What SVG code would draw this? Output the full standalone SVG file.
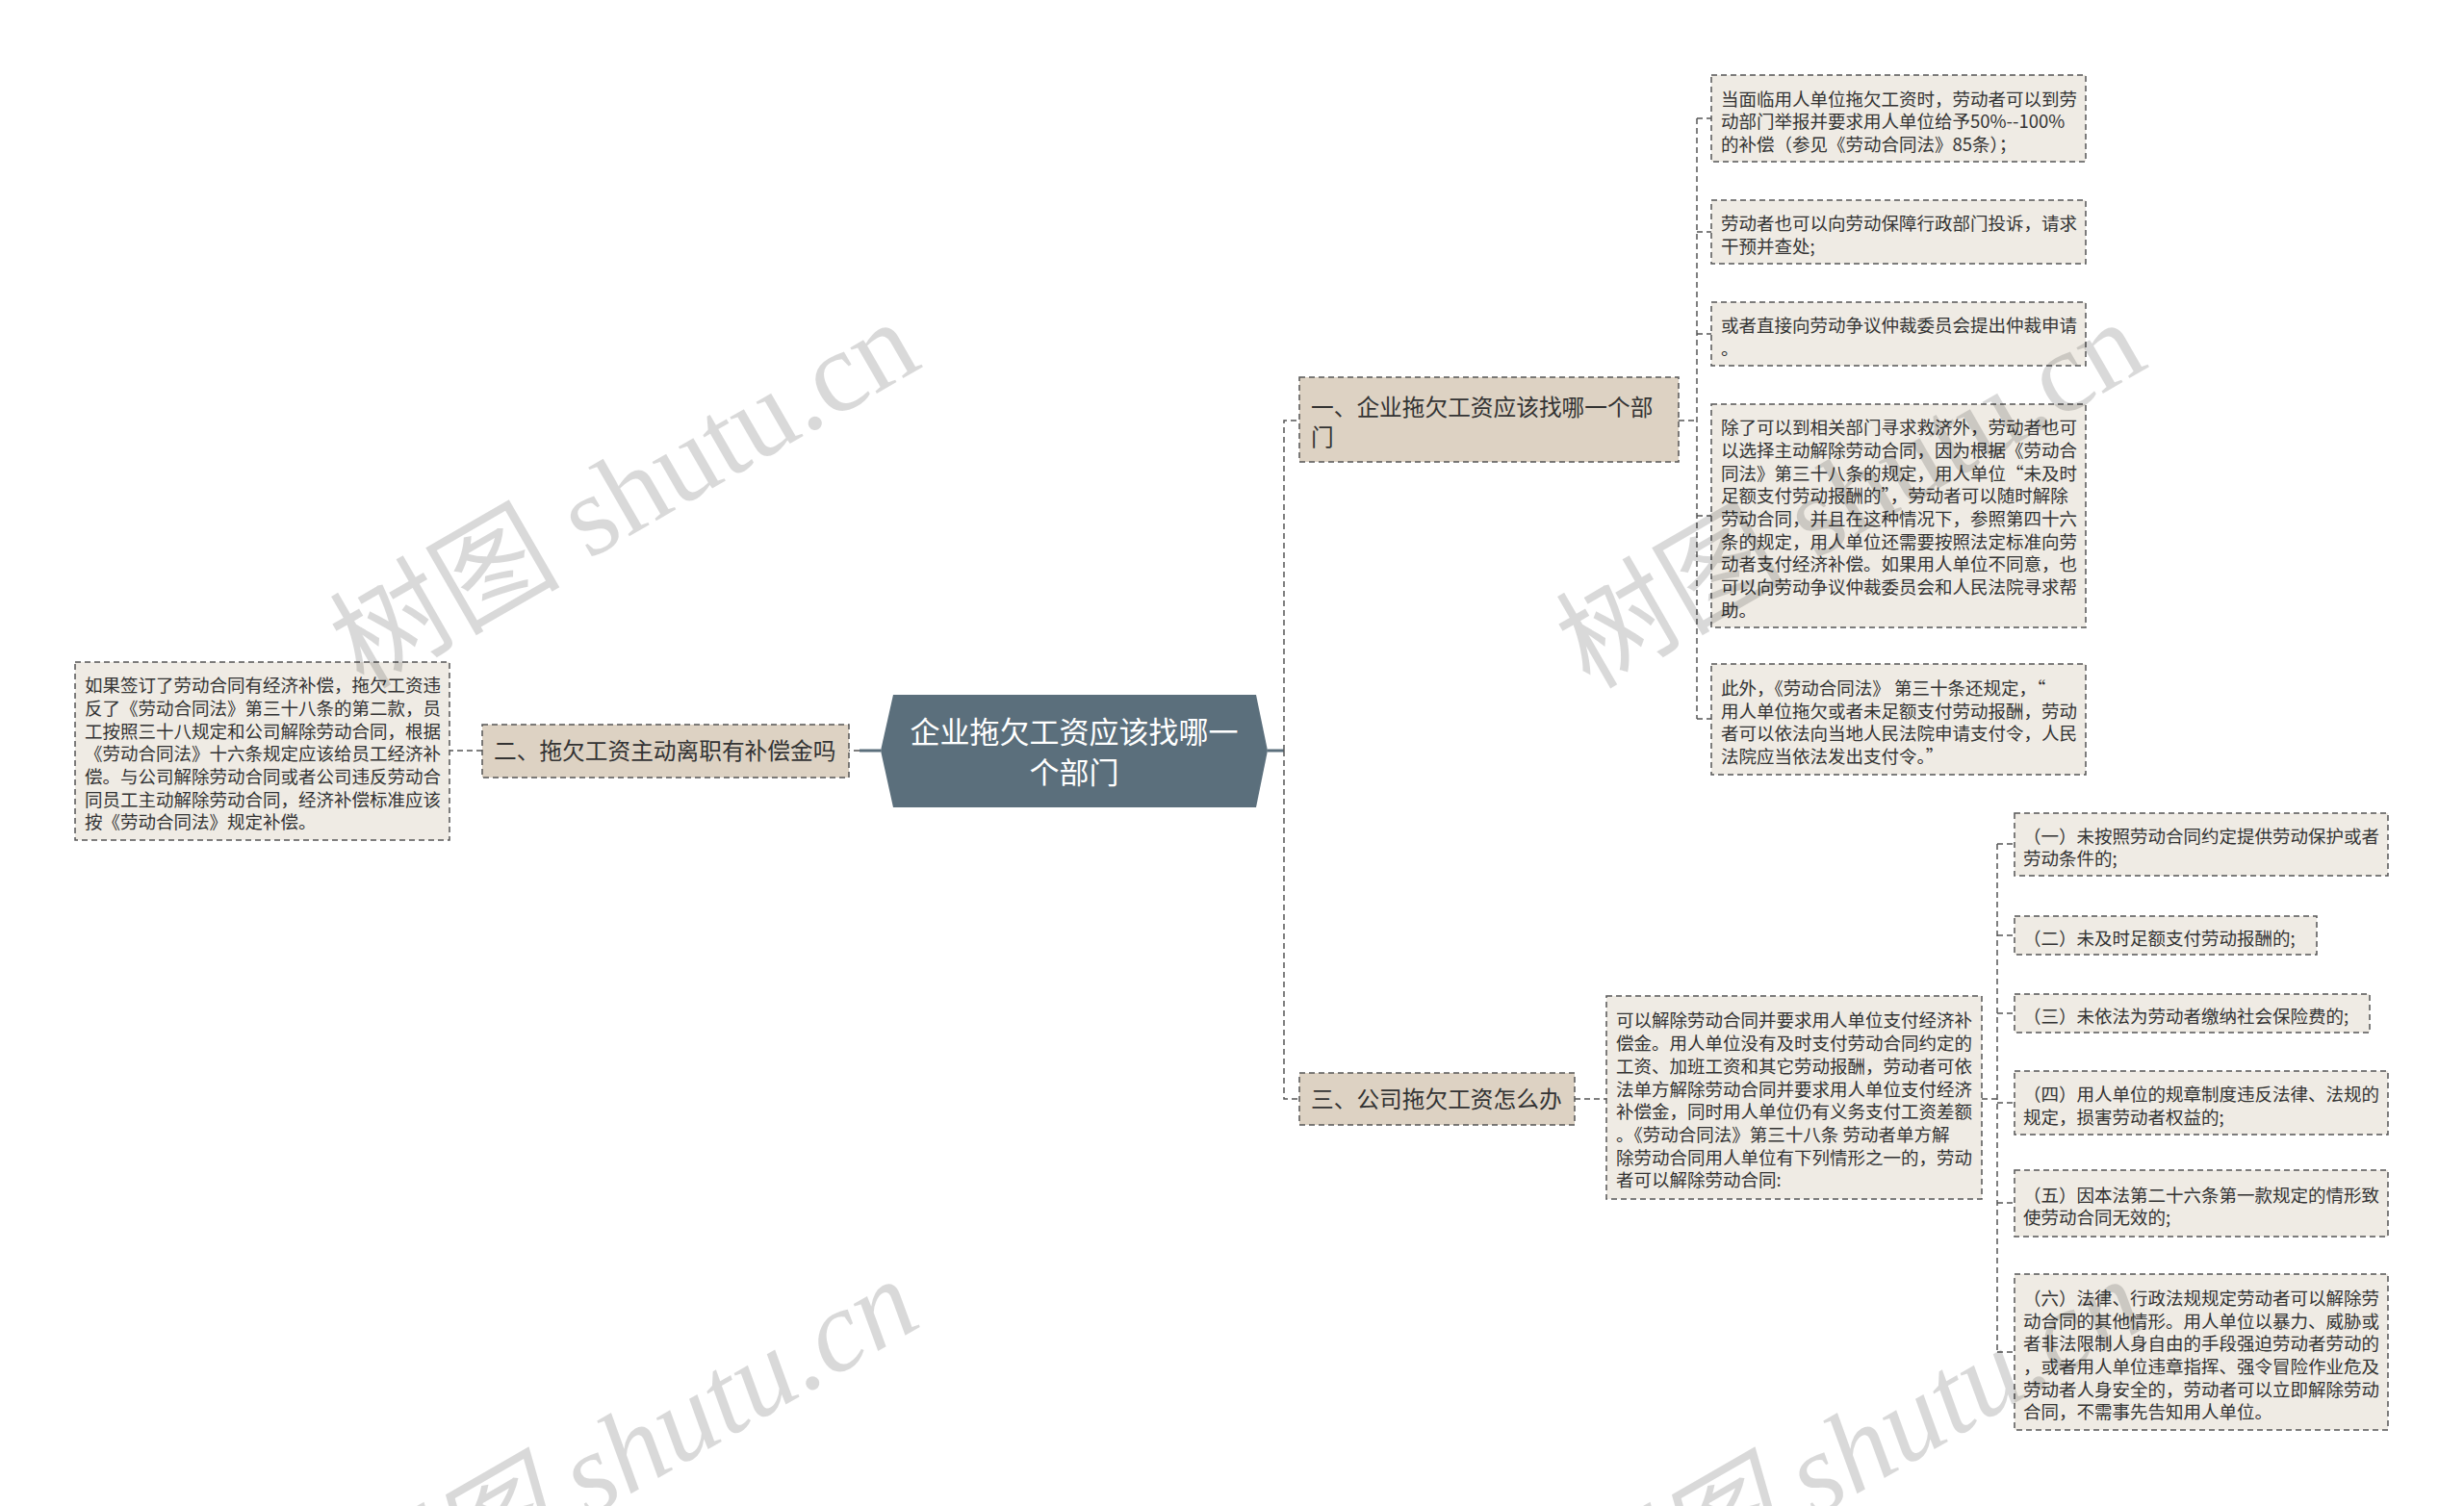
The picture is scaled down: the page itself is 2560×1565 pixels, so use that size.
<svg xmlns="http://www.w3.org/2000/svg" width="2560" height="1565" viewBox="0 0 2560 1565">
<style>
.t{font-family:"Noto Sans CJK SC","Noto Sans",sans-serif;fill:#333;}
.leaf rect{fill:#efebe4;stroke:#555;stroke-width:1.5;stroke-dasharray:6 4;}
.br rect{fill:#ddd2c3;stroke:#555;stroke-width:1.5;stroke-dasharray:6 4;}
.leaf text{font-size:18.5px;}
.br text{font-size:23.7px;}
.con path{fill:none;stroke:#555;stroke-width:1.5;stroke-dasharray:6 4;}
.con .solid{stroke:#5b6f7c;stroke-width:3;stroke-dasharray:none;}
.wm{font-family:"Liberation Serif","DejaVu Serif","Noto Sans CJK SC",serif;font-size:120px;fill:#000;fill-opacity:0.15;}
</style>
<rect width="2560" height="1565" fill="#fff"/>
<g id="connectors" class="con">
<path class="solid" d="M915 780H893"/>
<path d="M893 780H882"/>
<path d="M501 780H467"/>
<path class="solid" d="M1317 780H1334"/>
<path d="M1334 780V437H1350M1334 780V1142H1350"/>
<path d="M1744 437H1763M1763 123V747M1763 123H1778M1763 241H1778M1763 347H1778M1763 536H1778M1763 747H1778"/>
<path d="M1636 1142H1669"/>
<path d="M2059 1142H2075M2075 877V1405M2075 877H2093M2075 972H2093M2075 1053H2093M2075 1146H2093M2075 1250H2093M2075 1405H2093"/>
</g>
<g id="root">
<polygon points="915,780 928,722 1305,722 1317,780 1305,839 928,839" fill="#5b6f7c"/>
<text class="t" x="1116" y="772" text-anchor="middle" style="font-size:31px;fill:#fff">企业拖欠工资应该找哪一</text>
<text class="t" x="1116" y="814" text-anchor="middle" style="font-size:31px;fill:#fff">个部门</text>
</g>
<g id="b1" class="br">
<rect x="1350" y="392" width="394" height="88"/>
<text class="t" x="1362" y="432">一、企业拖欠工资应该找哪一个部</text>
<text class="t" x="1362" y="463">门</text>
</g>
<g id="b2" class="br">
<rect x="501" y="753" width="381" height="55"/>
<text class="t" x="513" y="789">二、拖欠工资主动离职有补偿金吗</text>
</g>
<g id="b3" class="br">
<rect x="1350" y="1115" width="286" height="54"/>
<text class="t" x="1362" y="1151">三、公司拖欠工资怎么办</text>
</g>
<g id="left-leaf" class="leaf">
<rect x="78" y="688" width="389" height="185"/>
<text class="t" x="88" y="719">如果签订了劳动合同有经济补偿，拖欠工资违</text>
<text class="t" x="88" y="743">反了《劳动合同法》第三十八条的第二款，员</text>
<text class="t" x="88" y="767">工按照三十八规定和公司解除劳动合同，根据</text>
<text class="t" x="88" y="790">《劳动合同法》十六条规定应该给员工经济补</text>
<text class="t" x="88" y="814">偿。与公司解除劳动合同或者公司违反劳动合</text>
<text class="t" x="88" y="838">同员工主动解除劳动合同，经济补偿标准应该</text>
<text class="t" x="88" y="861">按《劳动合同法》规定补偿。</text>
</g>
<g id="l1" class="leaf">
<rect x="1778" y="78" width="389" height="90"/>
<text class="t" x="1788" y="110">当面临用人单位拖欠工资时，劳动者可以到劳</text>
<text class="t" x="1788" y="133">动部门举报并要求用人单位给予50%--100%</text>
<text class="t" x="1788" y="157">的补偿（参见《劳动合同法》85条）；</text>
</g>
<g id="l2" class="leaf">
<rect x="1778" y="208" width="389" height="66"/>
<text class="t" x="1788" y="239">劳动者也可以向劳动保障行政部门投诉，请求</text>
<text class="t" x="1788" y="263">干预并查处;</text>
</g>
<g id="l3" class="leaf">
<rect x="1778" y="314" width="389" height="66"/>
<text class="t" x="1788" y="345">或者直接向劳动争议仲裁委员会提出仲裁申请</text>
<text class="t" x="1788" y="369">。</text>
</g>
<g id="l4" class="leaf">
<rect x="1778" y="420" width="389" height="232"/>
<text class="t" x="1788" y="451">除了可以到相关部门寻求救济外，劳动者也可</text>
<text class="t" x="1788" y="475">以选择主动解除劳动合同，因为根据《劳动合</text>
<text class="t" x="1788" y="499">同法》第三十八条的规定，用人单位“未及时</text>
<text class="t" x="1788" y="522">足额支付劳动报酬的”，劳动者可以随时解除</text>
<text class="t" x="1788" y="546">劳动合同，并且在这种情况下，参照第四十六</text>
<text class="t" x="1788" y="570">条的规定，用人单位还需要按照法定标准向劳</text>
<text class="t" x="1788" y="593">动者支付经济补偿。如果用人单位不同意，也</text>
<text class="t" x="1788" y="617">可以向劳动争议仲裁委员会和人民法院寻求帮</text>
<text class="t" x="1788" y="641">助。</text>
</g>
<g id="l5" class="leaf">
<rect x="1778" y="690" width="389" height="115"/>
<text class="t" x="1788" y="722">此外，《劳动合同法》 第三十条还规定，“</text>
<text class="t" x="1788" y="746">用人单位拖欠或者未足额支付劳动报酬，劳动</text>
<text class="t" x="1788" y="769">者可以依法向当地人民法院申请支付令，人民</text>
<text class="t" x="1788" y="793">法院应当依法发出支付令。”</text>
</g>
<g id="c3" class="leaf">
<rect x="1669" y="1035" width="390" height="211"/>
<text class="t" x="1679" y="1067">可以解除劳动合同并要求用人单位支付经济补</text>
<text class="t" x="1679" y="1091">偿金。用人单位没有及时支付劳动合同约定的</text>
<text class="t" x="1679" y="1115">工资、加班工资和其它劳动报酬，劳动者可依</text>
<text class="t" x="1679" y="1139">法单方解除劳动合同并要求用人单位支付经济</text>
<text class="t" x="1679" y="1162">补偿金，同时用人单位仍有义务支付工资差额</text>
<text class="t" x="1679" y="1186">。《劳动合同法》第三十八条 劳动者单方解</text>
<text class="t" x="1679" y="1210">除劳动合同用人单位有下列情形之一的，劳动</text>
<text class="t" x="1679" y="1233">者可以解除劳动合同:</text>
</g>
<g id="g1" class="leaf">
<rect x="2093" y="845" width="388" height="65"/>
<text class="t" x="2102" y="876">（一）未按照劳动合同约定提供劳动保护或者</text>
<text class="t" x="2102" y="899">劳动条件的;</text>
</g>
<g id="g2" class="leaf">
<rect x="2093" y="952" width="314" height="40"/>
<text class="t" x="2102" y="982">（二）未及时足额支付劳动报酬的;</text>
</g>
<g id="g3" class="leaf">
<rect x="2093" y="1033" width="369" height="40"/>
<text class="t" x="2102" y="1063">（三）未依法为劳动者缴纳社会保险费的;</text>
</g>
<g id="g4" class="leaf">
<rect x="2093" y="1113" width="388" height="66"/>
<text class="t" x="2102" y="1144">（四）用人单位的规章制度违反法律、法规的</text>
<text class="t" x="2102" y="1168">规定，损害劳动者权益的;</text>
</g>
<g id="g5" class="leaf">
<rect x="2093" y="1216" width="388" height="69"/>
<text class="t" x="2102" y="1249">（五）因本法第二十六条第一款规定的情形致</text>
<text class="t" x="2102" y="1272">使劳动合同无效的;</text>
</g>
<g id="g6" class="leaf">
<rect x="2093" y="1324" width="388" height="162"/>
<text class="t" x="2102" y="1356">（六）法律、行政法规规定劳动者可以解除劳</text>
<text class="t" x="2102" y="1380">动合同的其他情形。用人单位以暴力、威胁或</text>
<text class="t" x="2102" y="1403">者非法限制人身自由的手段强迫劳动者劳动的</text>
<text class="t" x="2102" y="1427">，或者用人单位违章指挥、强令冒险作业危及</text>
<text class="t" x="2102" y="1451">劳动者人身安全的，劳动者可以立即解除劳动</text>
<text class="t" x="2102" y="1474">合同，不需事先告知用人单位。</text>
</g>
<g id="watermarks">
<text class="wm" transform="translate(649,514) rotate(-30)" y="40" text-anchor="middle">树图 shutu.cn</text>
<text class="wm" transform="translate(1923,514) rotate(-30)" y="40" text-anchor="middle">树图 shutu.cn</text>
<text class="wm" transform="translate(649,1510) rotate(-30)" y="40" text-anchor="middle" font-style="italic">树图 shutu.cn</text>
<text class="wm" transform="translate(1923,1510) rotate(-30)" y="40" text-anchor="middle" font-style="italic">树图 shutu.cn</text>
</g>
</svg>
